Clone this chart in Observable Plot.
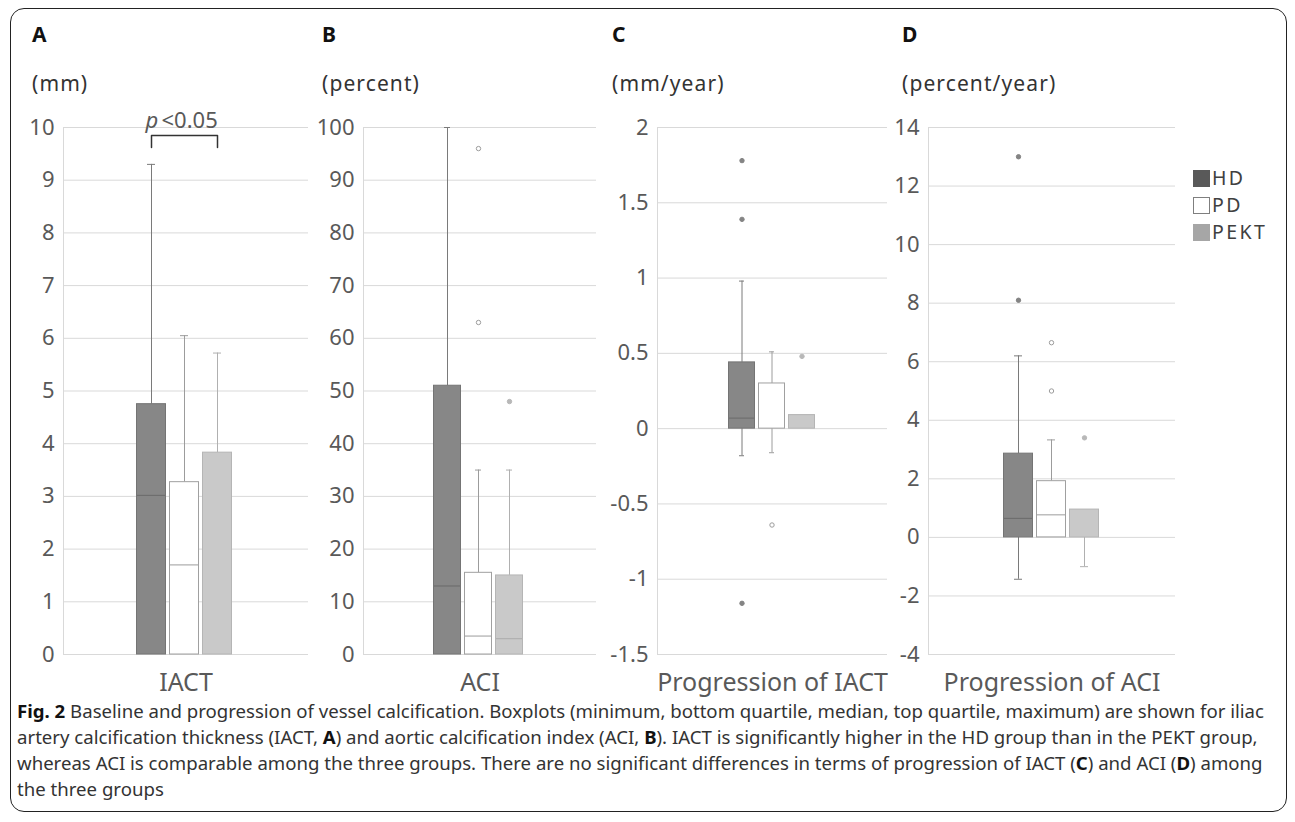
<!DOCTYPE html>
<html>
<head>
<meta charset="utf-8">
<script src="https://cdn.jsdelivr.net/npm/d3@7"></script>
<script src="https://cdn.jsdelivr.net/npm/@observablehq/plot@0.6"></script>
<style>
html, body { margin: 0; padding: 0; background: #fff; }
#wrap { position: relative; width: 1295px; height: 822px; overflow: hidden; font-family: "Noto Sans", sans-serif; background: #fff; }
#border { position: absolute; left: 10px; top: 8px; width: 1277px; height: 804px; border: 1.5px solid #222; border-radius: 14px; box-sizing: border-box; }
.panel { position: absolute; top: 100px; }
.letter { position: absolute; font-weight: bold; font-size: 21px; line-height: 21px; color: #111; }
.unit { position: absolute; font-size: 21px; line-height: 21px; letter-spacing: 1.1px; color: #333; white-space: nowrap; }
.leg { position: absolute; left: 1193px; font-size: 19.5px; line-height: 19px; letter-spacing: 2.4px; color: #404040; white-space: nowrap; }
.leg span.sw { display: inline-block; width: 17px; height: 17px; box-sizing: border-box; vertical-align: -2px; margin-right: 2px; }
.cap { position: absolute; left: 17px; font-size: 18.5px; line-height: 26px; color: #333; white-space: nowrap; transform-origin: 0 50%; }
.cap b { color: #111; }
</style>
</head>
<body>
<div id="wrap"><div id="border"></div></div>
<script>
// ---------- data ----------
const groups = ["HD", "PD", "PEKT"];
// [minimum, bottom quartile, median, top quartile, maximum] per group (HD, PD, PEKT)
const iactBox = [[0, 0, 3.02, 4.75, 9.3], [0, 0, 1.7, 3.27, 6.05], [0, 0, 0, 3.83, 5.72]];
const aciBox = [[0, 0, 13, 51, 100], [0, 0, 3.5, 15.5, 35], [0, 0, 3, 15, 35]];
const progIactBox = [[-0.18, 0, 0.07, 0.44, 0.98], [-0.16, 0, 0, 0.30, 0.51], [0, 0, 0, 0.09, 0.09]];
const progAciBox = [[-1.43, 0, 0.65, 2.86, 6.2], [0, 0, 0.77, 1.92, 3.33], [-1.0, 0, 0, 0.95, 0.95]];
// outliers: [group, value]
const iactOutliers = [];
const aciOutliers = [["PD", 96], ["PD", 63], ["PEKT", 48]];
const progIactOutliers = [["HD", 1.78], ["HD", 1.39], ["HD", -1.16], ["PD", -0.64], ["PEKT", 0.48]];
const progAciOutliers = [["HD", 13.0], ["HD", 8.1], ["PD", 6.65], ["PD", 5.0], ["PEKT", 3.4]];
// tick labels
const iactTicks = [0, 1, 2, 3, 4, 5, 6, 7, 8, 9, 10];
const aciTicks = [0, 10, 20, 30, 40, 50, 60, 70, 80, 90, 100];
const progIactTicks = [-1.5, -1, -0.5, 0, 0.5, 1, 1.5, 2];
const progAciTicks = [-4, -2, 0, 2, 4, 6, 8, 10, 12, 14];
// significance annotation (panel A): bracket HD–PEKT
const bracketPoints = [["HD", 9.62], ["HD", 9.85], ["PEKT", 9.85], ["PEKT", 9.62]];
const bracketText = ["p", "<0.05"];
const bracketTextY = 10.13;
const panelLetters = ["A", "B", "C", "D"];
const panelUnits = ["(mm)", "(percent)", "(mm/year)", "(percent/year)"];
const panelCategories = ["IACT", "ACI", "Progression of IACT", "Progression of ACI"];
const captionLines = [
  "<b>Fig. 2</b> Baseline and progression of vessel calcification. Boxplots (minimum, bottom quartile, median, top quartile, maximum) are shown for iliac",
  "artery calcification thickness (IACT, <b>A</b>) and aortic calcification index (ACI, <b>B</b>). IACT is significantly higher in the HD group than in the PEKT group,",
  "whereas ACI is comparable among the three groups. There are no significant differences in terms of progression of IACT (<b>C</b>) and ACI (<b>D</b>) among",
  "the three groups"
];

// ---------- styles ----------
const groupStyle = {
  HD:   {fill: "#878787", stroke: "#747474", whisker: "#7a7a7a", median: "#6a6a6a", dotFill: "#848484", dotStroke: "#848484", legend: "#595959", legendStroke: "#595959"},
  PD:   {fill: "#ffffff", stroke: "#a0a0a0", whisker: "#9c9c9c", median: "#9c9c9c", dotFill: "#ffffff", dotStroke: "#9c9c9c", legend: "#ffffff", legendStroke: "#7f7f7f"},
  PEKT: {fill: "#c9c9c9", stroke: "#b5b5b5", whisker: "#b0b0b0", median: "#acacac", dotFill: "#b8b8b8", dotStroke: "#b8b8b8", legend: "#a6a6a6", legendStroke: "#a6a6a6"}
};

const panels = [
  {box: iactBox, out: iactOutliers, ticks: iactTicks, domain: [0, 10], left: 0, width: 320, ml: 63, mr: 12, xr: [136, 233], letterX: 32},
  {box: aciBox, out: aciOutliers, ticks: aciTicks, domain: [0, 100], left: 290, width: 320, ml: 73, mr: 14, xr: [143, 234], letterX: 322},
  {box: progIactBox, out: progIactOutliers, ticks: progIactTicks, domain: [-1.5, 2], left: 580, width: 320, ml: 77, mr: 13, xr: [147, 237], letterX: 612},
  {box: progAciBox, out: progAciOutliers, ticks: progAciTicks, domain: [-4, 14], left: 860, width: 330, ml: 68, mr: 15, xr: [143, 240], letterX: 902}
];

const wrap = document.getElementById("wrap");

panels.forEach((cfg, pi) => {
  const rows = groups.map((g, i) => ({group: g, min: cfg.box[i][0], q1: cfg.box[i][1], median: cfg.box[i][2], q3: cfg.box[i][3], max: cfg.box[i][4]}));
  const marks = [
    Plot.gridY({ticks: cfg.ticks, stroke: "#d9d9d9", strokeOpacity: 1}),
    Plot.frame({anchor: "left", stroke: "#d9d9d9", strokeOpacity: 1}),
    Plot.axisY({ticks: cfg.ticks, tickSize: 0, tickPadding: 9, tickFormat: d => String(d), fill: "#595959", fontSize: 22})
  ];
  rows.forEach(r => {
    const s = groupStyle[r.group];
    if (r.max > r.q3) {
      marks.push(Plot.ruleX([r], {x: "group", y1: "q3", y2: "max", stroke: s.whisker}));
      marks.push(Plot.tickY([r], {x: "group", y: "max", stroke: s.whisker, insetLeft: 11, insetRight: 11}));
    }
    if (r.min < r.q1) {
      marks.push(Plot.ruleX([r], {x: "group", y1: "min", y2: "q1", stroke: s.whisker}));
      marks.push(Plot.tickY([r], {x: "group", y: "min", stroke: s.whisker, insetLeft: 11, insetRight: 11}));
    }
    marks.push(Plot.barY([r], {x: "group", y1: "q1", y2: "q3", fill: s.fill, stroke: s.stroke, insetLeft: 0.5, insetRight: 0.5}));
    if (r.median > r.q1) {
      marks.push(Plot.tickY([r], {x: "group", y: "median", stroke: s.median, insetLeft: 1, insetRight: 1}));
    }
    const outs = cfg.out.filter(o => o[0] === r.group);
    if (outs.length) {
      marks.push(Plot.dot(outs, {x: d => d[0], y: d => d[1], r: 2.2, fill: s.dotFill, stroke: s.dotStroke, strokeWidth: 1}));
    }
  });
  if (pi === 0) {
    marks.push(Plot.line(bracketPoints, {x: d => d[0], y: d => d[1], stroke: "#333", strokeWidth: 1.5}));
    marks.push(Plot.text([bracketText[0]], {x: () => "PD", y: () => bracketTextY, text: d => d, textAnchor: "start", dx: -39, fontSize: 22, fontStyle: "italic", fill: "#595959", lineAnchor: "middle"}));
    marks.push(Plot.text([bracketText[1]], {x: () => "PD", y: () => bracketTextY, text: d => d, textAnchor: "start", dx: -23, fontSize: 22, fill: "#595959", lineAnchor: "middle"}));
  }
  marks.push(Plot.text([panelCategories[pi]], {text: d => d, frameAnchor: "bottom", dy: 28, fontSize: 25, fill: "#595959", lineAnchor: "middle"}));

  const chart = Plot.plot({
    width: cfg.width,
    height: 610,
    marginTop: 27,
    marginBottom: 56,
    marginLeft: cfg.ml,
    marginRight: cfg.mr,
    x: {type: "band", domain: groups, range: cfg.xr, paddingInner: 0.09, paddingOuter: 0, axis: null},
    y: {domain: cfg.domain, axis: null},
    style: {fontSize: "22px", fontFamily: "Noto Sans", color: "#595959", background: "transparent", overflow: "visible"},
    marks
  });
  chart.classList.add("panel");
  chart.style.left = cfg.left + "px";
  chart.style.position = "absolute";
  chart.style.top = "100px";
  wrap.appendChild(chart);

  const L = document.createElement("div");
  L.className = "letter";
  L.textContent = panelLetters[pi];
  L.style.left = cfg.letterX + "px";
  L.style.top = "24px";
  wrap.appendChild(L);
  const U = document.createElement("div");
  U.className = "unit";
  U.textContent = panelUnits[pi];
  U.style.left = cfg.letterX + "px";
  U.style.top = "73px";
  wrap.appendChild(U);
});

// legend
groups.forEach((g, i) => {
  const s = groupStyle[g];
  const d = document.createElement("div");
  d.className = "leg";
  d.style.top = (168 + i * 27) + "px";
  d.innerHTML = `<span class="sw" style="background:${s.legend};border:1px solid ${s.legendStroke}"></span>${g}`;
  wrap.appendChild(d);
});

// caption
const capEls = captionLines.map((t, i) => {
  const d = document.createElement("div");
  d.className = "cap";
  d.style.top = (698 + i * 26) + "px";
  d.innerHTML = t;
  wrap.appendChild(d);
  return d;
});
const w0 = capEls[0].getBoundingClientRect().width;
const k = 1247 / w0;
capEls.forEach(d => d.style.transform = `scaleX(${k})`);
</script>
</body>
</html>
